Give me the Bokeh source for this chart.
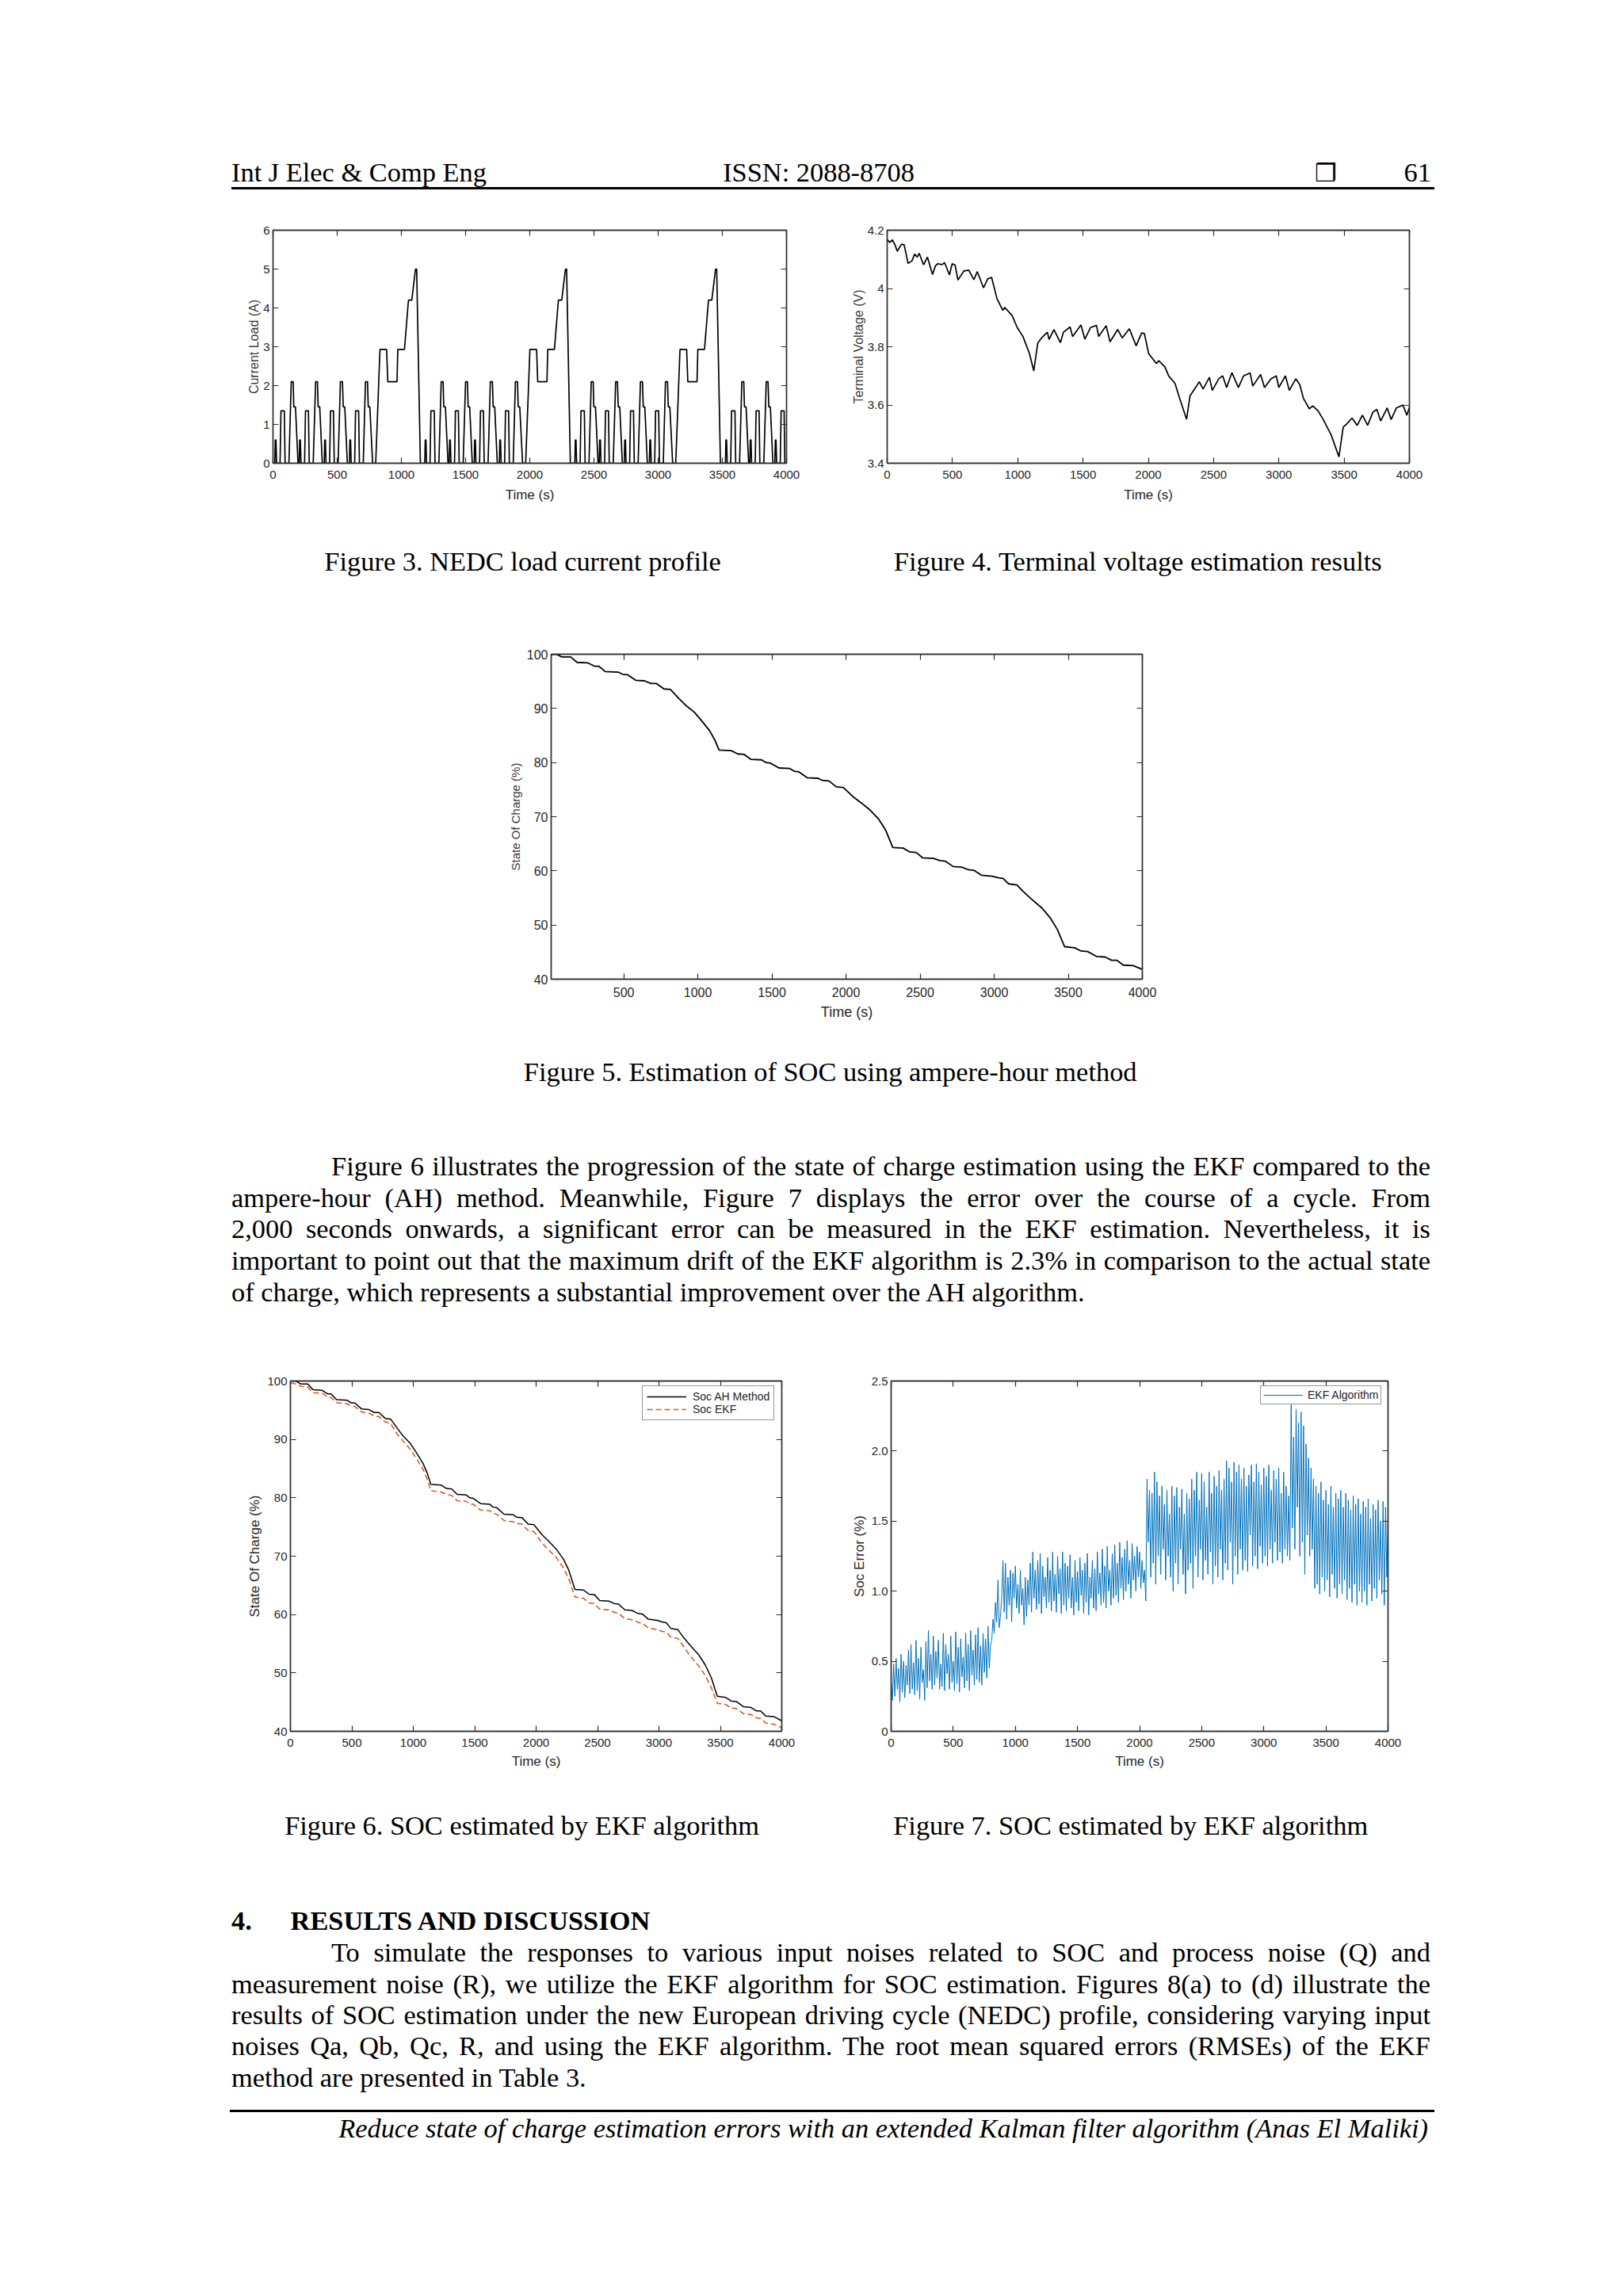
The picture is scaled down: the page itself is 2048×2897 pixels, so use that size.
from bokeh.plotting import figure
from bokeh.models import Div, FixedTicker, LinearAxis, Range1d, Legend, LegendItem
from bokeh.layouts import column, row
from bokeh.embed import file_html
from bokeh.resources import INLINE

# ---------------- data ----------------
# Figure 3: one NEDC cycle (time s, current A), repeated at the read cycle starts
nedc_cycle_t = [0, 14, 18, 23, 28, 55, 62, 88, 94, 124, 142, 157, 162, 175, 195,
                204, 208, 213, 218, 246, 253, 276, 282, 313, 332, 346, 352, 364, 384,
                399, 403, 408, 413, 441, 448, 471, 477, 507, 525, 541, 547, 559, 579,
                595, 599, 604, 609, 636, 643, 667, 673, 703, 720, 736, 742, 754, 776,
                800, 833, 885, 894, 966, 972, 1024, 1055, 1081, 1110, 1119, 1148]
nedc_cycle_a = [0, 0, 0.6, 0.6, 0, 0, 1.35, 1.35, 0, 0, 2.1, 2.1, 1.45, 1.45, 0,
                0, 0.6, 0.6, 0, 0, 1.35, 1.35, 0, 0, 2.1, 2.1, 1.45, 1.45, 0,
                0, 0.6, 0.6, 0, 0, 1.35, 1.35, 0, 0, 2.1, 2.1, 1.45, 1.45, 0,
                0, 0.6, 0.6, 0, 0, 1.35, 1.35, 0, 0, 2.1, 2.1, 1.45, 1.45, 0,
                0, 2.93, 2.93, 2.1, 2.1, 2.93, 2.93, 4.2, 4.2, 5.0, 5.0, 0]
nedc_cycle_start = [0, 1168, 2337, 3510]

# Figure 4: terminal voltage
volt_t = [0, 20, 40, 60, 77, 110, 130, 160, 190, 210, 230, 245, 279, 308, 347, 370, 388, 420, 439, 477,
          498, 520, 542, 587, 625, 664, 690, 738, 770, 800, 841, 886, 900, 957, 996, 1040, 1090, 1123, 1153, 1182,
          1227, 1240, 1277, 1327, 1350, 1401, 1420, 1484, 1514, 1558, 1603, 1620, 1677, 1707, 1766, 1800, 1855, 1907, 1950, 1970,
          2003, 2062, 2080, 2127, 2157, 2204, 2240, 2293, 2320, 2364, 2390, 2420, 2468, 2490, 2540, 2570, 2600, 2640, 2690, 2730,
          2780, 2800, 2860, 2890, 2940, 2980, 3000, 3050, 3080, 3130, 3160, 3188, 3233, 3260, 3300, 3340, 3401, 3460, 3493, 3520,
          3560, 3600, 3640, 3680, 3720, 3750, 3780, 3830, 3860, 3900, 3950, 3980, 4000]
volt_v = [4.168, 4.158, 4.167, 4.150, 4.128, 4.152, 4.150, 4.086, 4.095, 4.118, 4.108, 4.121, 4.081, 4.108, 4.048, 4.078, 4.085, 4.082, 4.089, 4.047,
          4.085, 4.080, 4.029, 4.060, 4.063, 4.030, 4.058, 4.002, 4.033, 4.038, 3.965, 3.925, 3.935, 3.907, 3.866, 3.835, 3.776, 3.717, 3.812, 3.830,
          3.850, 3.825, 3.859, 3.814, 3.850, 3.868, 3.835, 3.875, 3.826, 3.866, 3.873, 3.835, 3.872, 3.817, 3.859, 3.830, 3.862, 3.803, 3.848, 3.845,
          3.776, 3.742, 3.752, 3.731, 3.699, 3.675, 3.623, 3.551, 3.632, 3.661, 3.680, 3.655, 3.695, 3.650, 3.690, 3.700, 3.660, 3.711, 3.660, 3.700,
          3.710, 3.665, 3.705, 3.660, 3.690, 3.700, 3.660, 3.700, 3.650, 3.690, 3.670, 3.623, 3.587, 3.597, 3.580, 3.550, 3.497, 3.422, 3.524, 3.535,
          3.555, 3.530, 3.565, 3.530, 3.575, 3.585, 3.545, 3.590, 3.550, 3.590, 3.600, 3.565, 3.592]

# Figures 5 and 6: state of charge (%)
soc_t = [0, 45, 82, 141, 185, 258, 302, 331, 375, 463, 492, 527, 580, 639, 683, 721, 771, 815, 873, 917,
         976, 1020, 1079, 1114, 1143, 1225, 1269, 1313, 1357, 1430, 1460, 1489, 1548, 1621, 1650, 1680, 1738, 1812, 1841, 1885,
         1935, 1982, 2047, 2105, 2164, 2222, 2266, 2316, 2386, 2430, 2474, 2518, 2591, 2635, 2670, 2723, 2782, 2826, 2864, 2914,
         2987, 3031, 3060, 3098, 3154, 3192, 3251, 3324, 3376, 3426, 3475, 3543, 3587, 3631, 3690, 3748, 3792, 3827, 3871, 3938, 4000]
soc_ah = [100, 100, 99.5, 99.5, 98.5, 98.4, 97.8, 97.8, 96.8, 96.7, 96.3, 96.2, 95.2, 95.1, 94.6, 94.6, 93.6, 93.5, 91.8, 90.6,
          89.3, 87.9, 85.9, 84.2, 82.3, 82.2, 81.6, 81.5, 80.6, 80.5, 80.0, 79.9, 79.0, 78.9, 78.4, 78.3, 77.2, 77.1, 76.7, 76.6,
          75.5, 75.4, 73.7, 72.5, 71.2, 69.5, 67.6, 64.3, 64.2, 63.5, 63.4, 62.4, 62.3, 61.9, 61.8, 60.8, 60.7, 60.2, 60.1, 59.2,
          59.0, 58.7, 58.6, 57.6, 57.4, 56.3, 54.8, 53.1, 51.4, 49.2, 46.0, 45.8, 45.2, 45.1, 44.2, 44.1, 43.5, 43.5, 42.6, 42.5, 41.8]
soc_ekf = [99.7, 99.5, 99.1, 99.0, 98.0, 97.9, 97.3, 97.2, 96.3, 96.1, 95.8, 95.6, 94.7, 94.5, 94.0, 93.9, 93.0, 92.7, 90.8, 89.7,
           88.3, 86.9, 84.9, 83.2, 81.2, 81.0, 80.6, 80.4, 79.5, 79.4, 78.9, 78.9, 77.9, 77.8, 77.3, 77.2, 76.1, 75.9, 75.6, 75.5,
           74.4, 74.2, 72.3, 71.0, 69.8, 68.0, 66.1, 63.0, 62.8, 62.0, 61.9, 60.9, 60.8, 60.4, 60.2, 59.3, 59.1, 58.7, 58.5, 57.7,
           57.4, 57.1, 57.0, 56.1, 55.9, 54.8, 53.0, 51.2, 49.6, 47.5, 44.8, 44.6, 44.0, 43.9, 43.0, 42.9, 42.3, 42.2, 41.4, 41.2, 40.6]

# Figure 7: SOC error (%), read every 10 s from 0 to 4000 s
soc_err = [
    0.35, 0.22, 0.48, 0.25, 0.52, 0.30, 0.45, 0.21, 0.55, 0.28, 0.50, 0.24, 0.47, 0.33, 0.58, 0.27, 0.62, 0.30, 0.49, 0.26, 0.65,
    0.29, 0.52, 0.23, 0.60, 0.35, 0.44, 0.22, 0.64, 0.31, 0.72, 0.36, 0.55, 0.30, 0.68, 0.33, 0.57, 0.38, 0.65, 0.30, 0.48,
    0.32, 0.70, 0.29, 0.62, 0.41, 0.55, 0.30, 0.68, 0.35, 0.50, 0.29, 0.71, 0.34, 0.60, 0.28, 0.66, 0.39, 0.53, 0.31, 0.70,
    0.36, 0.62, 0.29, 0.72, 0.40, 0.58, 0.33, 0.69, 0.37, 0.74, 0.35, 0.61, 0.33, 0.70, 0.42, 0.66, 0.38, 0.75, 0.45, 0.62,
    0.65, 0.80, 0.70, 0.92, 0.78, 1.08, 0.74, 0.82, 0.95, 1.22,
    0.85, 1.20, 0.80, 1.10, 0.90, 1.15, 0.78, 1.13, 0.95, 1.18, 0.88, 1.05, 0.84, 1.15, 0.90, 1.02, 0.76, 1.10, 0.82, 1.08,
    0.90, 1.20, 0.85, 1.28, 0.95, 1.15, 0.87, 1.22, 0.91, 1.27, 0.84, 1.18, 0.96, 1.10, 0.88, 1.24, 0.92, 1.15, 0.86, 1.28,
    0.93, 1.12, 0.85, 1.25, 0.98, 1.16, 0.84, 1.28, 0.90, 1.20, 0.86, 1.18, 0.95, 1.26, 0.88, 1.10, 0.83, 1.22, 0.92, 1.14,
    0.86, 1.24, 0.97, 1.15, 0.84, 1.20, 0.92, 1.27, 0.83, 1.10, 0.95, 1.22, 0.88, 1.16, 0.86, 1.28, 0.98, 1.13, 0.90, 1.30,
    0.92, 1.18, 0.88, 1.32, 1.00, 1.15, 0.90, 1.27, 0.95, 1.33, 0.97, 1.20, 0.92, 1.35, 1.02, 1.24, 0.94, 1.30, 1.00, 1.36,
    1.05, 1.22, 0.95, 1.34, 1.08, 1.25, 1.00, 1.32, 1.10, 1.28, 1.02, 1.22, 1.06, 1.15, 0.93,
    1.80, 1.35, 1.72, 1.10, 1.70, 1.20, 1.85, 1.05, 1.78, 1.25, 1.68, 1.12, 1.75, 1.30, 1.62,
    1.08, 1.72, 1.25, 1.55, 1.10, 1.75, 1.00, 1.68, 1.20, 1.74, 1.05, 1.60, 1.30, 1.73, 1.12, 1.55, 0.98, 1.70, 1.15, 1.66,
    1.20, 1.80, 1.02, 1.72, 1.25, 1.85, 1.10, 1.65, 1.30, 1.84, 1.08, 1.78, 1.22, 1.60, 1.12, 1.85, 1.28, 1.70, 1.05, 1.82,
    1.18, 1.75, 1.10, 1.86, 1.30, 1.72, 1.08, 1.80, 1.20, 1.93, 1.15, 1.88, 1.35, 1.78, 1.05, 1.92, 1.25, 1.85, 1.12, 1.90,
    1.30, 1.80, 1.15, 1.88, 1.22, 1.75, 1.14, 1.83, 1.40, 1.90, 1.18, 1.78, 1.25, 1.91, 1.16, 1.85, 1.32, 1.76, 1.20, 1.88,
    1.25, 1.82, 1.18, 1.90, 1.30, 1.72, 1.20, 1.86, 1.35, 1.80, 1.22, 1.88, 1.28, 1.70, 1.20, 1.85, 1.30, 1.75, 1.25, 1.68,
    1.22, 2.33, 1.45, 2.10, 1.30, 2.30, 1.60, 2.20, 1.25, 2.28, 1.35, 2.18, 1.12, 2.05, 1.40, 1.95, 1.25, 1.88, 1.30, 1.80,
    1.02, 1.75, 1.05, 1.70, 0.98, 1.78, 1.10, 1.65, 1.00, 1.72, 1.08, 1.62, 0.96, 1.75, 1.12, 1.60, 1.02, 1.70, 0.95, 1.66,
    1.05, 1.72, 0.98, 1.60, 1.08, 1.70, 0.94, 1.65, 1.02, 1.58, 0.92, 1.68, 1.05, 1.62, 0.90, 1.66, 1.00, 1.55, 0.92, 1.64,
    1.00, 1.60, 0.90, 1.66, 1.05, 1.52, 0.93, 1.62, 1.02, 1.58, 0.95, 1.65, 1.08, 1.50, 0.98, 1.64, 0.90, 1.60, 1.10, 1.55,
]
err_t = [4000.0 * i / (len(soc_err) - 1) for i in range(len(soc_err))]

time_ticks = [0, 500, 1000, 1500, 2000, 2500, 3000, 3500, 4000]
time_ticks_no0 = [500, 1000, 1500, 2000, 2500, 3000, 3500, 4000]
cur_ticks = [0, 1, 2, 3, 4, 5, 6]
volt_ticks = [3.4, 3.6, 3.8, 4.0, 4.2]
volt_labels = ["3.4", "3.6", "3.8", "4", "4.2"]
soc_ticks = [40, 50, 60, 70, 80, 90, 100]
err_ticks = [0.0, 0.5, 1.0, 1.5, 2.0, 2.5]
err_labels = ["0", "0.5", "1.0", "1.5", "2.0", "2.5"]

cur_t, cur_a = [], []
for s in nedc_cycle_start:
    for t, a in zip(nedc_cycle_t, nedc_cycle_a):
        cur_t.append(s + t)
        cur_a.append(a)

# ---------------- styles ----------------
SERIF = "'Liberation Serif', 'Times New Roman', serif"
SANS = "Liberation Sans"
BOX = "#2e2e2e"
TXT = "#262626"
FS = 34.4
PAGE_W = 2040
SPLIT = 1058   # x where the left and right chart figures meet


def make_chart(w, h, bl, br, bt, bb, xr, yr, xt, yt, xlab, ylab,
               tick_fs="16px", xlab_fs="17px", ylab_fs="16px", ylab_color="#3a3a3a",
               yover=None, xstand=9, ystand=4, xlab_stand=6, ylab_stand=3):
    p = figure(width=w, height=h, x_range=Range1d(*xr), y_range=Range1d(*yr),
               output_backend="svg", toolbar_location=None,
               min_border_left=bl, min_border_right=br, min_border_top=bt, min_border_bottom=bb)
    p.xgrid.visible = False
    p.ygrid.visible = False
    p.outline_line_color = BOX
    p.outline_line_width = 1.4
    p.background_fill_color = "white"
    p.border_fill_color = "white"
    xa = p.xaxis[0]
    ya = p.yaxis[0]
    xa.ticker = FixedTicker(ticks=xt)
    ya.ticker = FixedTicker(ticks=yt)
    top = LinearAxis(ticker=FixedTicker(ticks=xt))
    rgt = LinearAxis(ticker=FixedTicker(ticks=yt))
    p.add_layout(top, "above")
    p.add_layout(rgt, "right")
    for ax in (xa, ya, top, rgt):
        ax.major_tick_in = 7
        ax.major_tick_out = 0
        ax.minor_tick_line_color = None
        ax.axis_line_color = BOX
        ax.axis_line_width = 1.4
        ax.major_tick_line_color = BOX
        ax.major_tick_line_width = 1.2
        ax.major_label_text_font = SANS
        ax.major_label_text_font_size = tick_fs
        ax.major_label_text_color = TXT
    for ax in (top, rgt):
        ax.major_label_text_color = None
    xa.major_label_standoff = xstand
    ya.major_label_standoff = ystand
    if yover:
        ya.major_label_overrides = yover
    xa.axis_label = xlab
    ya.axis_label = ylab
    xa.axis_label_text_font = SANS
    ya.axis_label_text_font = SANS
    xa.axis_label_text_font_style = "normal"
    ya.axis_label_text_font_style = "normal"
    xa.axis_label_text_font_size = xlab_fs
    ya.axis_label_text_font_size = ylab_fs
    xa.axis_label_text_color = TXT
    ya.axis_label_text_color = ylab_color
    xa.axis_label_standoff = xlab_stand
    ya.axis_label_standoff = ylab_stand
    return p


def t_span(s, x, base, org, size=FS, weight="normal", style="normal", align="left", family=SERIF):
    top = base - 0.8375 * size - org
    common = (f"position:absolute;top:{top:.1f}px;font-family:{family};font-size:{size}px;"
              f"line-height:{size}px;font-weight:{weight};font-style:{style};color:#000;white-space:nowrap;")
    if align == "left":
        return f'<div style="{common}left:{x:.1f}px;">{s}</div>'
    if align == "center":
        return f'<div style="{common}left:{x - 500:.1f}px;width:1000px;text-align:center;">{s}</div>'
    return f'<div style="{common}left:{x - 1600:.1f}px;width:1600px;text-align:right;">{s}</div>'


def j_line(s, x0, x1, base, org, last=False, size=FS):
    top = base - 0.8375 * size - org
    al = "left" if last else "justify"
    return (f'<div style="position:absolute;top:{top:.1f}px;left:{x0:.1f}px;width:{x1 - x0:.1f}px;'
            f'font-family:{SERIF};font-size:{size}px;line-height:{size}px;color:#000;'
            f'text-align:{al};text-align-last:{al};">{s}</div>')


def h_rule(x0, x1, y, org, th=3):
    return (f'<div style="position:absolute;left:{x0}px;top:{y - th / 2 - org:.1f}px;'
            f'width:{x1 - x0}px;height:{th}px;background:#000;"></div>')


def page_div(parts, y_top, y_bot):
    h = y_bot - y_top
    html = f'<div style="position:relative;width:{PAGE_W}px;height:{h}px;">' + "".join(parts) + "</div>"
    return Div(text=html, width=PAGE_W, height=h, margin=0)


TXT_L, TXT_R, INDENT = 292, 1805, 418

# Block A: header
A0, A1 = 0, 250
divA = page_div([
    t_span("Int J Elec &amp; Comp Eng", TXT_L, 228.5, A0),
    t_span("ISSN: 2088-8708", 1033, 228.5, A0, align="center"),
    t_span("&#10066;", 1659, 228.5, A0, size=31, weight="bold", family="'DejaVu Sans'"),
    t_span("61", 1806, 228.5, A0, align="right"),
    h_rule(292, 1810, 237.5, A0, 3),
], A0, A1)

# Row 2: figures 3 and 4
R2_0, R2_1 = 250, 665
p3 = make_chart(SPLIT, R2_1 - R2_0, 344, SPLIT - 992, 290 - R2_0, R2_1 - 592,
                (0, 4000), (0, 6), time_ticks, cur_ticks, "Time (s)", "Current Load (A)",
                tick_fs="15px", xlab_fs="17px", ylab_fs="16px", ylab_stand=0, xlab_stand=8)
p3.line(cur_t, cur_a, line_color="black", line_width=1.7)

p4 = make_chart(PAGE_W - SPLIT, R2_1 - R2_0, 1119 - SPLIT, PAGE_W - 1778, 286 - R2_0, R2_1 - 584,
                (0, 4000), (3.4, 4.2), time_ticks, volt_ticks, "Time (s)", "Terminal Voltage (V)",
                tick_fs="15px", xlab_fs="17px", ylab_fs="16px", ylab_stand=0, xlab_stand=8,
                yover=dict(zip(volt_ticks, volt_labels)))
p4.line(volt_t, volt_v, line_color="black", line_width=1.7)

# Block B: captions 3, 4
B0, B1 = 665, 790
divB = page_div([
    t_span("Figure 3. NEDC load current profile", 659.6, 719.6, B0, align="center"),
    t_span("Figure 4. Terminal voltage estimation results", 1435.7, 719.6, B0, align="center"),
], B0, B1)

# Row 4: figure 5
R4_0, R4_1 = 790, 1320
p5 = make_chart(PAGE_W, R4_1 - R4_0, 695, PAGE_W - 1441, 825 - R4_0, R4_1 - 1235,
                (10, 4000), (40, 100), time_ticks_no0, soc_ticks, "Time (s)", "State Of Charge (%)",
                tick_fs="16px", xlab_fs="18px", ylab_fs="15px", xstand=10)
p5.line(soc_t, soc_ah, line_color="black", line_width=1.8)

# Block C: caption 5 and paragraph
C0, C1 = 1320, 1700
para1 = [
    "Figure 6 illustrates the progression of the state of charge estimation using the EKF compared to the",
    "ampere-hour (AH) method. Meanwhile, Figure 7 displays the error over the course of a cycle. From",
    "2,000 seconds onwards, a significant error can be measured in the EKF estimation. Nevertheless, it is",
    "important to point out that the maximum drift of the EKF algorithm is 2.3% in comparison to the actual state",
    "of charge, which represents a substantial improvement over the AH algorithm.",
]
partsC = [t_span("Figure 5. Estimation of SOC using ampere-hour method", 1047.7, 1364, C0, align="center")]
for i, ln in enumerate(para1):
    x0 = INDENT if i == 0 else TXT_L
    partsC.append(j_line(ln, x0, TXT_R, 1482.7 + 39.7 * i, C0, last=(i == len(para1) - 1)))
divC = page_div(partsC, C0, C1)

# Row 6: figures 6 and 7
R6_0, R6_1 = 1700, 2265
p6 = make_chart(SPLIT, R6_1 - R6_0, 366, SPLIT - 986, 1736 - R6_0, R6_1 - 2184,
                (0, 4000), (40, 100), time_ticks, soc_ticks, "Time (s)", "State Of Charge (%)",
                tick_fs="15px", xlab_fs="17px", ylab_fs="17px", ylab_color=TXT)
r_ah = p6.line(soc_t, soc_ah, line_color="black", line_width=1.5)
r_ekf = p6.line(soc_t, soc_ekf, line_color="#D95319", line_width=1.5, line_dash="7 4")
leg6 = Legend(items=[LegendItem(label="Soc AH Method", renderers=[r_ah]),
                     LegendItem(label="Soc EKF", renderers=[r_ekf])],
              location=(444, 392), margin=0, padding=5, spacing=0,
              glyph_width=50, glyph_height=14, label_height=14, label_standoff=8,
              label_text_font=SANS, label_text_font_size="14px", label_text_color=TXT,
              border_line_color=BOX, border_line_width=1.2, background_fill_color="white",
              background_fill_alpha=1.0)
p6.add_layout(leg6)

p7 = make_chart(PAGE_W - SPLIT, R6_1 - R6_0, 1124 - SPLIT, PAGE_W - 1751, 1742 - R6_0, R6_1 - 2188,
                (0, 4000), (0, 2.5), time_ticks, err_ticks, "Time (s)", "Soc Error (%)",
                tick_fs="15px", xlab_fs="17px", ylab_fs="17px", ylab_color=TXT,
                yover=dict(zip(err_ticks, err_labels)))
r_err = p7.line(err_t, soc_err, line_color="#0072BD", line_width=1.0)
leg7 = Legend(items=[LegendItem(label="EKF Algorithm", renderers=[r_err])],
              location=(466, 412), margin=0, padding=3, spacing=0,
              glyph_width=50, glyph_height=14, label_height=14, label_standoff=6,
              label_text_font=SANS, label_text_font_size="14px", label_text_color=TXT,
              border_line_color=BOX, border_line_width=1.2, background_fill_color="white",
              background_fill_alpha=1.0)
p7.add_layout(leg7)

# Block D: captions 6, 7, section, paragraph, footer
D0, D1 = 2265, 2760
para2 = [
    "To simulate the responses to various input noises related to SOC and process noise (Q) and",
    "measurement noise (R), we utilize the EKF algorithm for SOC estimation. Figures 8(a) to (d) illustrate the",
    "results of SOC estimation under the new European driving cycle (NEDC) profile, considering varying input",
    "noises Qa, Qb, Qc, R, and using the EKF algorithm. The root mean squared errors (RMSEs) of the EKF",
    "method are presented in Table 3.",
]
partsD = [
    t_span("Figure 6. SOC estimated by EKF algorithm", 658.6, 2315, D0, align="center"),
    t_span("Figure 7. SOC estimated by EKF algorithm", 1426.7, 2315, D0, align="center"),
    t_span("4.", TXT_L, 2435, D0, weight="bold"),
    t_span("RESULTS AND DISCUSSION", 366.6, 2435, D0, weight="bold"),
]
for i, ln in enumerate(para2):
    x0 = INDENT if i == 0 else TXT_L
    partsD.append(j_line(ln, x0, TXT_R, 2475 + 39.4 * i, D0, last=(i == len(para2) - 1)))
partsD.append(h_rule(290, 1810, 2663, D0, 3))
partsD.append(t_span("Reduce state of charge estimation errors with an extended Kalman filter algorithm (Anas El Maliki)",
                     1802, 2697, D0, style="italic", align="right"))
divD = page_div(partsD, D0, D1)

page = column(
    divA,
    row(p3, p4),
    divB,
    p5,
    divC,
    row(p6, p7),
    divD,
)

open("out.html", "w").write(file_html(page, INLINE, title="SOC estimation"))
